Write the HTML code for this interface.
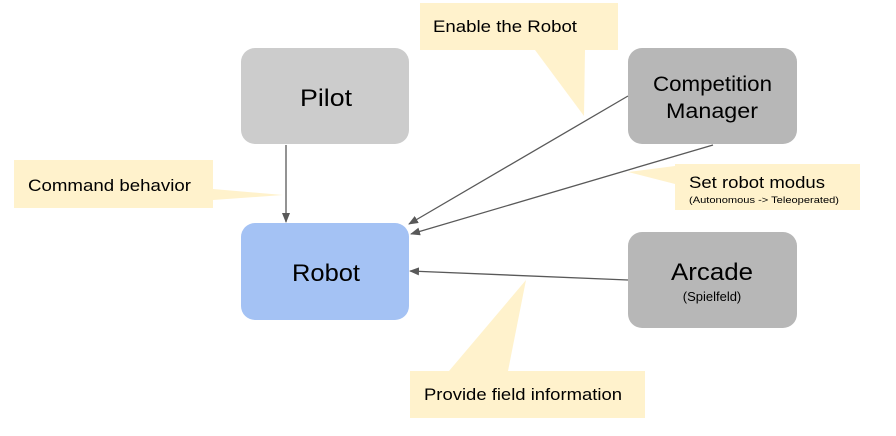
<!DOCTYPE html>
<html><head><style>body{margin:0;background:#fff}svg{display:block}text{font-family:"Liberation Sans",Arial,sans-serif;fill:#000}</style></head><body>
<svg width="896" height="436" viewBox="0 0 896 436">
<defs><marker id="a" markerWidth="10" markerHeight="8" refX="9" refY="4" orient="auto" markerUnits="userSpaceOnUse"><path d="M0,0L10,4L0,8z" fill="#595959"/></marker></defs>
<g fill="#fff2cc">
<rect x="420" y="3" width="198" height="47"/><path d="M535,50L585,50L584,116z"/>
<rect x="675" y="164" width="185" height="46"/><path d="M675,166L675,184L628,172z"/>
<rect x="14" y="160" width="199" height="48"/><path d="M213,189L213,200L283,195z"/>
<rect x="410" y="371" width="235" height="47"/><path d="M449,371L508,371L526,280z"/>
</g>
<rect x="241" y="48" width="168" height="96" rx="14" fill="#cccccc"/>
<rect x="628" y="48" width="169" height="96" rx="14" fill="#b7b7b7"/>
<rect x="241" y="223" width="168" height="97" rx="14" fill="#a4c2f4"/>
<rect x="628" y="232" width="169" height="96" rx="14" fill="#b7b7b7"/>
<g stroke="#595959" stroke-width="1.3" fill="none" marker-end="url(#a)">
<line x1="286" y1="145" x2="286" y2="222"/>
<line x1="628" y1="96" x2="409" y2="224"/>
<line x1="713" y1="145" x2="411" y2="234"/>
<line x1="628" y1="280" x2="410" y2="271"/>
</g>
<text x="300" y="106" font-size="24" textLength="52" lengthAdjust="spacingAndGlyphs">Pilot</text>
<text x="653" y="91" font-size="21" textLength="119" lengthAdjust="spacingAndGlyphs">Competition</text>
<text x="666" y="118" font-size="21" textLength="92" lengthAdjust="spacingAndGlyphs">Manager</text>
<text x="292" y="281" font-size="24" textLength="68" lengthAdjust="spacingAndGlyphs">Robot</text>
<text x="671" y="280" font-size="24" textLength="82" lengthAdjust="spacingAndGlyphs">Arcade</text>
<text x="712" y="301" font-size="13" text-anchor="middle">(Spielfeld)</text>
<text x="433" y="32" font-size="17" textLength="144" lengthAdjust="spacingAndGlyphs">Enable the Robot</text>
<text x="689" y="188" font-size="17" textLength="136" lengthAdjust="spacingAndGlyphs">Set robot modus</text>
<text x="689" y="203" font-size="9" textLength="150" lengthAdjust="spacingAndGlyphs">(Autonomous -&gt; Teleoperated)</text>
<text x="28" y="191" font-size="17" textLength="163" lengthAdjust="spacingAndGlyphs">Command behavior</text>
<text x="424" y="400" font-size="17" textLength="198" lengthAdjust="spacingAndGlyphs">Provide field information</text>
</svg>
</body></html>
